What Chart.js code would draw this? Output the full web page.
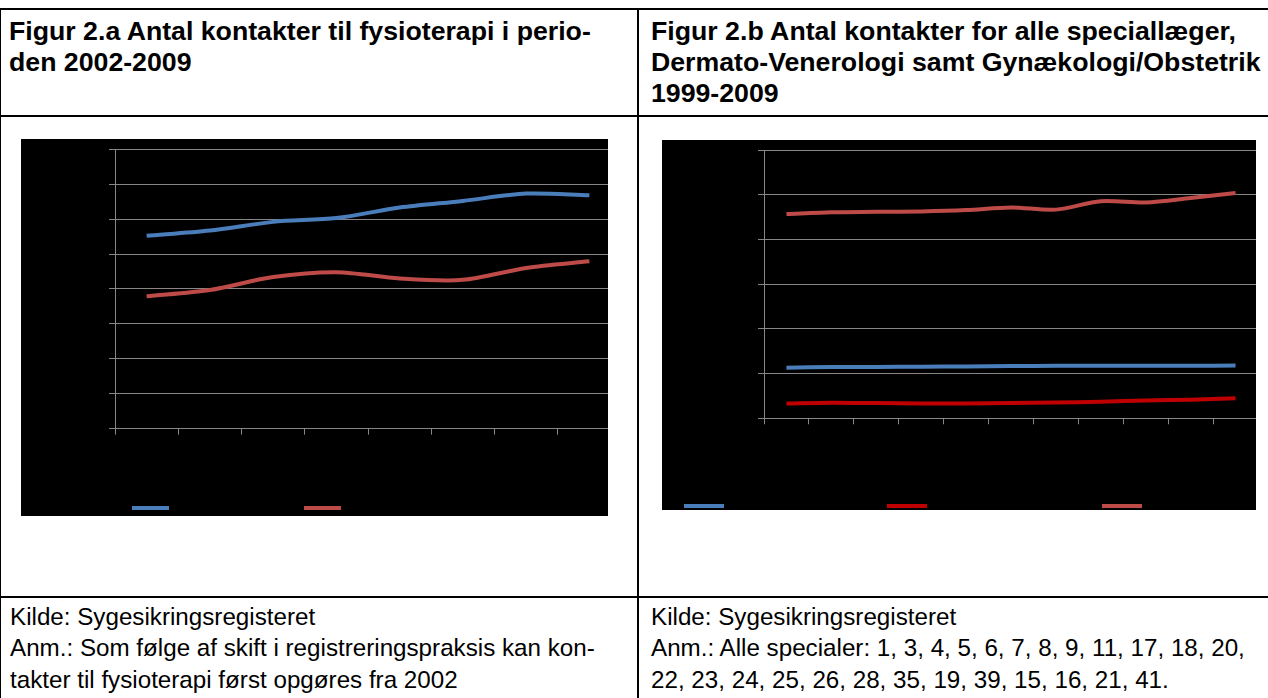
<!DOCTYPE html>
<html><head><meta charset="utf-8">
<script src="https://cdn.jsdelivr.net/npm/chart.js@4.4.1/dist/chart.umd.min.js"></script>
<style>
html,body{margin:0;padding:0;background:#fff;width:1268px;height:698px;overflow:hidden;position:relative;font-family:"Liberation Sans",Arial,sans-serif;}
.ln{position:absolute;background:#000;}
.t{position:absolute;white-space:pre;line-height:1;color:#000;}
.h{font-weight:bold;font-size:26.7px;}
.f{font-size:24.2px;}
.box{position:absolute;background:#000;overflow:hidden;}
.box canvas{position:absolute;left:0;top:0;}
.leg{position:absolute;height:4px;}
.legtxt{position:absolute;color:#000;font-size:13px;white-space:pre;top:-7px;}
</style></head><body>
<div class="ln" style="left:0;top:8px;width:1268px;height:2px"></div>
<div class="ln" style="left:0;top:115px;width:1268px;height:2px"></div>
<div class="ln" style="left:0;top:596px;width:1268px;height:2px"></div>
<div class="ln" style="left:0;top:8px;width:1px;height:690px"></div>
<div class="ln" style="left:637px;top:8px;width:2px;height:690px"></div>

<div class="t h" style="left:9px;top:18.4px">Figur 2.a Antal kontakter til fysioterapi i perio-</div>
<div class="t h" style="left:9px;top:49.1px">den 2002-2009</div>
<div class="t h" style="left:651px;top:18.4px">Figur 2.b Antal kontakter for alle speciallæger,</div>
<div class="t h" style="left:651px;top:49.1px">Dermato-Venerologi samt Gynækologi/Obstetrik</div>
<div class="t h" style="left:651px;top:79.8px">1999-2009</div>

<div class="t f" style="left:10px;top:605px">Kilde: Sygesikringsregisteret</div>
<div class="t f" style="left:10px;top:636px">Anm.: Som følge af skift i registreringspraksis kan kon-</div>
<div class="t f" style="left:10px;top:667.5px">takter til fysioterapi først opgøres fra 2002</div>
<div class="t f" style="left:651px;top:605px">Kilde: Sygesikringsregisteret</div>
<div class="t f" style="left:651px;top:636px">Anm.: Alle specialer: 1, 3, 4, 5, 6, 7, 8, 9, 11, 17, 18, 20,</div>
<div class="t f" style="left:651px;top:667.5px">22, 23, 24, 25, 26, 28, 35, 19, 39, 15, 16, 21, 41.</div>

<div class="box" id="boxA" style="left:21px;top:139px;width:587px;height:377px"><canvas id="cA" width="602" height="377"></canvas></div>
<div class="box" id="boxB" style="left:662px;top:140px;width:594px;height:370px"><canvas id="cB" width="598" height="370"></canvas></div>

<script>
// ---- Data: Figur 2.a ----
const yearsA = ['2002','2003','2004','2005','2006','2007','2008','2009'];
const namesA = ['Kvinder','Mænd'];
const colorsA = ['#4A7EBB','#BE4B48'];
const fysioA1 = [5.52, 5.67, 5.92, 6.03, 6.33, 6.52, 6.73, 6.68];
const fysioA2 = [3.79, 3.97, 4.34, 4.48, 4.30, 4.26, 4.60, 4.79];
const ticksA = [0,1,2,3,4,5,6,7,8];

// ---- Data: Figur 2.b ----
const yearsB = ['1999','2000','2001','2002','2003','2004','2005','2006','2007','2008','2009'];
const namesB = ['Alle speciallæger','Dermato-Venerologi','Gynækologi/Obstetrik'];
const colorsB = ['#4A7EBB','#C00000','#BE4B48'];
const specB1 = [1.13, 1.15, 1.15, 1.155, 1.16, 1.17, 1.175, 1.175, 1.175, 1.175, 1.18];
const specB2 = [0.33, 0.35, 0.34, 0.33, 0.33, 0.34, 0.355, 0.37, 0.40, 0.415, 0.45];
const specB3 = [4.57, 4.61, 4.62, 4.63, 4.66, 4.72, 4.67, 4.86, 4.83, 4.93, 5.04];
const ticksB = [0,1,2,3,4,5,6];

const GRID='#868686';
function makeChart(id, labels, names, colors, series, ticks, o){
  return new Chart(document.getElementById(id), {
    type:'line',
    data:{labels:labels, datasets:series.map((s,i)=>({label:names[i],data:s,borderColor:colors[i],backgroundColor:colors[i],borderWidth:4,pointRadius:0,tension:0.3,fill:false}))},
    options:{
      responsive:false, animation:false, devicePixelRatio:1,
      layout:{padding:{top:o.top,right:2,left:0,bottom:0}},
      plugins:{legend:{display:false},tooltip:{enabled:false}},
      scales:{
        x:{type:'category',offset:true,
           grid:{offset:true,drawOnChartArea:false,drawTicks:true,tickLength:6,color:GRID},
           border:{color:GRID,width:1},
           ticks:{color:'#000',font:{size:12},maxRotation:0,autoSkip:false},
           afterFit(s){s.height=o.xh;}},
        y:{min:ticks[0],max:ticks[ticks.length-1],
           afterBuildTicks(s){s.ticks=ticks.map(v=>({value:v}));},
           ticks:{color:'#000',font:{size:12}},
           grid:{color:GRID,tickLength:6,drawTicks:true},
           border:{color:GRID,width:1},
           afterFit(s){s.width=o.yw;}}
      }
    }
  });
}
makeChart('cA', yearsA, namesA, colorsA, [fysioA1, fysioA2], ticksA, {top:7, xh:87.3, yw:94});
makeChart('cB', yearsB, namesB, colorsB, [specB1, specB2, specB3], ticksB, {top:8.3, xh:91.7, yw:102});

// legends (HTML)
function legend(boxId, names, colors, pos){
  const box=document.getElementById(boxId);
  names.forEach((n,i)=>{
    const d=document.createElement('div'); d.className='leg';
    d.style.left=pos.x[i]+'px'; d.style.top=pos.y+'px'; d.style.width=pos.w+'px'; d.style.background=colors[i];
    const t=document.createElement('span'); t.className='legtxt'; t.textContent=n; t.style.left=(pos.w+5)+'px';
    d.appendChild(t); box.appendChild(d);
  });
}
legend('boxA', namesA, colorsA, {x:[111,283], y:367, w:37});
legend('boxB', namesB, colorsB, {x:[22,225,440], y:363.5, w:40});
</script>
</body></html>
